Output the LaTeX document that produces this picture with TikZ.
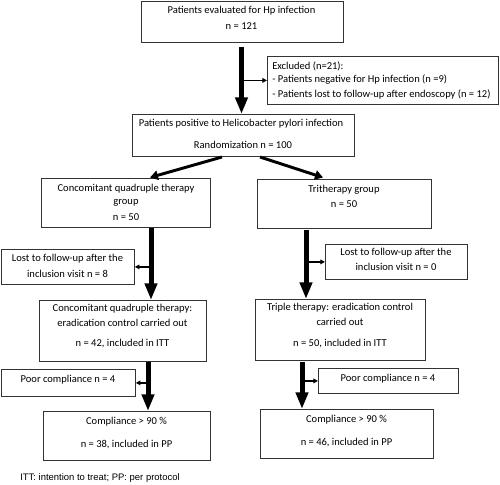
\documentclass[tikz,border=0pt]{standalone}
\usepackage{fontspec}
\setmainfont{Carlito}
\newfontfamily\footfont{Liberation Sans}
\usetikzlibrary{arrows.meta}
\begin{document}
\begin{tikzpicture}[x=0.75pt,y=-0.75pt,
  box/.style={draw=black!80, line width=0.6pt, anchor=north west, inner sep=0pt},
  txt/.style={font=\fontsize{7.9}{9}\selectfont, inner sep=0pt, anchor=center},
  ltxt/.style={font=\fontsize{7.9}{9}\selectfont, inner sep=0pt, anchor=west},
  bigarrow/.style={line width=3.75pt, -{Triangle[width=9pt,length=12.5pt]}},
  thinarrow/.style={line width=0.9pt, -{Triangle[width=3.5pt,length=3.5pt]}},
  diagarrow/.style={line width=2.2pt, -{Triangle[width=7pt,length=6pt]}}]
\useasboundingbox (0,0) rectangle (500,485);
% boxes
\node[box, minimum width=151.5pt, minimum height=30.75pt] (b1) at (141,1) {};
\node[box, minimum width=173.25pt, minimum height=36pt] (ex) at (267,56) {};
\node[box, minimum width=166.5pt, minimum height=31.5pt] (b3) at (132,114) {};
\node[box, minimum width=126.75pt, minimum height=36.75pt] (cq) at (41,178) {};
\node[box, minimum width=130.5pt, minimum height=36.75pt] (tr) at (257,179) {};
\node[box, minimum width=99.75pt, minimum height=26.25pt] (l1) at (1,249) {};
\node[box, minimum width=106.5pt, minimum height=26.25pt] (r1) at (325,244) {};
\node[box, minimum width=125.25pt, minimum height=45.75pt] (cqe) at (39,300) {};
\node[box, minimum width=127.5pt, minimum height=45.75pt] (tre) at (255,299) {};
\node[box, minimum width=100.5pt, minimum height=20.25pt] (l2) at (1,369) {};
\node[box, minimum width=105pt, minimum height=18.75pt] (r2) at (318,368) {};
\node[box, minimum width=125.25pt, minimum height=36.75pt] (cl) at (43,411) {};
\node[box, minimum width=129.75pt, minimum height=36.75pt] (cr) at (260,409) {};
% texts
\node[txt] (t1a) at (241.5,11) {Patients evaluated for Hp infection};
\node[txt] (t1b) at (241.5,26) {n = 121};
\node[ltxt] (exa) at (272,66) {Excluded (n=21):};
\node[ltxt] (exb) at (272,80) {- Patients negative for Hp infection (n =9)};
\node[ltxt] (exc) at (272,94) {- Patients lost to follow-up after endoscopy (n = 12)};
\node[txt] (t3a) at (241,124) {Patients positive to Helicobacter pylori infection};
\node[txt] (t3b) at (243,145) {Randomization n = 100};
\node[txt] (cqa) at (126,189) {Concomitant quadruple therapy};
\node[txt] (cqb) at (126,203) {group};
\node[txt] (cqc) at (126,217) {n = 50};
\node[txt] (tra) at (344,190) {Tritherapy group};
\node[txt] (trb) at (344,204) {n = 50};
\node[txt] (l1a) at (67.5,259) {Lost to follow-up after the};
\node[txt] (l1b) at (67.5,274) {inclusion visit n = 8};
\node[txt] (r1a) at (396,253) {Lost to follow-up after the};
\node[txt] (r1b) at (396,267) {inclusion visit n = 0};
\node[txt] (cqea) at (122.5,309) {Concomitant quadruple therapy:};
\node[txt] (cqeb) at (122.5,323) {eradication control carried out};
\node[txt] (cqec) at (122.5,344) {n = 42, included in ITT};
\node[txt] (trea) at (340,308) {Triple therapy: eradication control};
\node[txt] (treb) at (340,322) {carried out};
\node[txt] (trec) at (340,344) {n = 50, included in ITT};
\node[txt] (l2a) at (68,380) {Poor compliance n = 4};
\node[txt] (r2a) at (388,379) {Poor compliance n = 4};
\node[txt] (cla) at (126.5,422) {Compliance > 90 \%};
\node[txt] (clb) at (126.5,445) {n = 38, included in PP};
\node[txt] (cra) at (346.5,420) {Compliance > 90 \%};
\node[txt] (crb) at (346.5,443) {n = 46, included in PP};
\node[font=\footfont\fontsize{7.1}{8}\selectfont, inner sep=0pt, anchor=west] (foot) at (20,478) {ITT: intention to treat; PP: per protocol};
% connectors
\coordinate (s1) at (241.5,47);
\draw[bigarrow] (s1) -- (s1 |- b3.north);
\draw[thinarrow] (s1 |- ex.west) -- (ex.west);
\coordinate (d1) at (222,157);
\coordinate (d2) at (260,157);
\draw[diagarrow] (d1) -- (150,177.5);
\draw[diagarrow] (d2) -- (323,177.5);
\coordinate (s2) at (151,228);
\draw[bigarrow] (s2) -- (s2 |- cqe.north);
\draw[thinarrow] (s2 |- l1.east) -- (l1.east);
\coordinate (s3) at (306,230);
\draw[bigarrow] (s3) -- (s3 |- tre.north);
\draw[thinarrow] (s3 |- r1.west) -- (r1.west);
\coordinate (s4) at (148,362);
\draw[bigarrow] (s4) -- (s4 |- cl.north);
\draw[thinarrow] (s4 |- l2.east) -- (l2.east);
\coordinate (s5) at (302,362);
\draw[bigarrow] (s5) -- (s5 |- cr.north);
\draw[thinarrow] (s5 |- r2.west) -- (r2.west);
\end{tikzpicture}
\end{document}
